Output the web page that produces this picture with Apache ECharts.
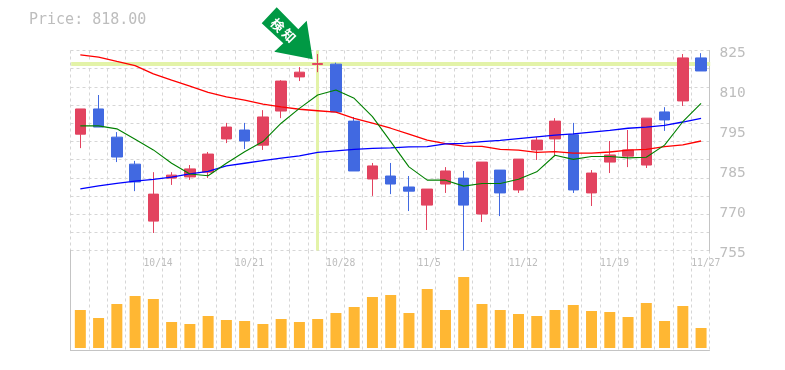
<!DOCTYPE html>
<html><head><meta charset="utf-8">
<style>html,body{margin:0;padding:0;background:#fff}#c{width:785px;height:370px}</style>
<script src="https://cdn.jsdelivr.net/npm/echarts@6/dist/echarts.min.js"></script>
</head><body><div id="c"></div>
<script>
// [open, close, low, high]
const ohlc = [
[794.2,802.7,789.5,802.7],[802.7,796.6,796.6,807.4],[793.2,786.5,784.8,794.9],[784.1,778.1,775.0,785.2],
[764.9,774.0,760.9,781.4],[779.4,780.4,777.1,781.4],[779.8,782.5,778.8,783.8],[781.4,787.5,779.4,788.2],
[792.6,796.6,791.2,798.0],[795.6,791.9,789.2,798.0],[790.5,800.0,788.9,802.3],[802.0,812.1,799.6,812.4],
[813.5,815.1,812.1,816.8],[817.7,818.0,815.1,821.2],[817.8,801.7,801.7,818.3],[798.6,781.8,781.8,800.0],
[779.1,783.5,773.4,784.5],[780.1,777.4,774.0,784.5],[776.4,775.0,768.3,780.1],[770.3,775.7,761.9,775.7],
[777.4,781.8,774.4,783.1],[779.4,770.3,755.0,781.8],[767.3,784.8,764.6,784.8],[782.1,774.4,766.6,782.1],
[775.4,785.8,774.4,785.8],[788.9,792.2,785.5,793.2],[792.6,798.6,786.8,799.6],[794.0,775.4,774.4,798.0],
[774.4,781.1,770.0,782.1],[784.8,787.2,781.1,791.9],[786.8,788.9,783.1,795.6],[783.8,799.6,782.8,799.6],
[801.7,799.0,795.3,803.3],[805.4,819.9,803.7,821.2],[819.9,815.5,815.5,821.5]];
const maLong = [820.9,820.2,818.7,817.3,814.5,812.4,810.4,808.3,806.8,805.7,804.3,803.4,802.6,802.1,801.6,799.5,797.9,796.2,794.2,792.2,791.0,790.2,790.1,789.1,788.8,788.1,788.3,787.8,787.8,788.2,788.8,789.1,790.0,790.6,791.9];
const maMid = [775.8,776.8,777.6,778.4,779.0,779.7,780.8,781.7,783.5,784.4,785.3,786.1,786.9,788.1,788.6,789.1,789.4,789.6,789.9,790.0,790.9,791.1,791.7,792.1,792.7,793.3,793.9,794.3,794.9,795.5,796.2,796.6,797.2,798.3,799.5];
const maShort = [797.0,797.0,796.0,792.5,788.9,784.4,780.8,780.2,784.4,788.3,791.7,797.9,802.9,807.4,809.1,806.3,800.1,791.7,783.2,778.7,778.7,776.7,777.6,777.6,779.0,781.5,787.1,785.7,786.7,786.7,786.2,786.4,790.5,798.4,804.6];
const volume = [38,30,44,52,49,26,24,32,28,27,24,29,26,29,35,41,51,53,35,59,38,71,44,38,34,32,38,43,37,36,31,45,27,42,20];
const dateLabels = {4:'10/14',9:'10/21',14:'10/28',19:'11/5',24:'11/12',29:'11/19',34:'11/27'};
const priceLabels = ['755','770','785','795','810','825'];
const currentPrice = 818;
const currentIndex = 13;
const categories = ohlc.map((_, i) => String(i));

const gridCol = '#d6d6d6', axisCol = '#c4c4c4', textCol = '#bdbdbd';
const mono = '"DejaVu Sans Mono", monospace';
const dash = {color: gridCol, type: [3, 3], width: 1};
const chart = echarts.init(document.getElementById('c'), null, {renderer: 'canvas'});
chart.setOption({
  animation: false,
  backgroundColor: '#fff',
  title: {text: 'Price: ' + currentPrice.toFixed(2), left: 24, top: 8,
    textStyle: {fontFamily: mono, fontSize: 15, fontWeight: 'normal', color: textCol}},
  grid: [
    {left: 70.5, top: 50.5, width: 639, height: 200},   // frame, price
    {left: 70.5, top: 250.5, width: 639, height: 100},  // frame, volume
    {left: 71.2, top: 50.5, width: 639, height: 200},   // candles
    {left: 71.2, top: 252, width: 639, height: 96}      // volume bars
  ],
  xAxis: [
    {type: 'value', gridIndex: 0, min: 0, max: 35, interval: 1,
     axisLine: {show: false}, axisTick: {show: false},
     splitLine: {show: true, lineStyle: dash},
     axisLabel: {show: true, align: 'left', margin: 8, fontFamily: mono, fontSize: 9.7, color: textCol,
       showMinLabel: true, showMaxLabel: true, hideOverlap: false,
       formatter: v => dateLabels[v] || ''}},
    {type: 'value', gridIndex: 1, min: 0, max: 35, interval: 1,
     axisLine: {show: true, lineStyle: {color: axisCol, width: 1}}, axisTick: {show: false},
     axisLabel: {show: false}, splitLine: {show: true, lineStyle: dash}},
    {type: 'category', gridIndex: 2, data: categories, show: false},
    {type: 'category', gridIndex: 3, data: categories, show: false}
  ],
  yAxis: [
    {type: 'value', gridIndex: 0, min: 0, max: 11, interval: 1, position: 'left',
     axisLine: {show: false}, axisTick: {show: false}, axisLabel: {show: false},
     splitLine: {show: true, lineStyle: dash}},
    {type: 'value', gridIndex: 0, min: 0, max: 5, interval: 1, position: 'right',
     axisLine: {show: true, lineStyle: {color: axisCol, width: 1}}, axisTick: {show: false},
     splitLine: {show: false},
     axisLabel: {show: true, margin: 10, fontFamily: mono, fontSize: 14.5, color: textCol,
       verticalAlign: 'top', padding: [-5, 0, 0, 0], formatter: v => priceLabels[v]}},
    {type: 'value', gridIndex: 1, min: 0, max: 1, interval: 1, position: 'right',
     axisLine: {show: true, lineStyle: {color: axisCol, width: 1}}, axisTick: {show: false},
     axisLabel: {show: false}, splitLine: {show: false}},
    {type: 'value', gridIndex: 2, min: 755, max: 822.4, show: false, splitLine: {show: false}},
    {type: 'value', gridIndex: 3, min: 0, max: 96, show: false, splitLine: {show: false}}
  ],
  series: [
    {type: 'line', xAxisIndex: 2, yAxisIndex: 3, data: [], silent: true, z: 1,
     markLine: {silent: true, symbol: 'none', z: 1, label: {show: false},
       lineStyle: {color: '#e3f3a8', type: 'solid'},
       data: [
         {yAxis: currentPrice, lineStyle: {width: 4, color: '#e3f3a8', type: 'solid'}},
         {xAxis: currentIndex, lineStyle: {width: 3, color: '#e3f3a8', type: 'solid'}}
       ]}},
    {type: 'candlestick', xAxisIndex: 2, yAxisIndex: 3, data: ohlc, barWidth: 11, z: 3,
     itemStyle: {color: '#e2435f', color0: '#4169e1', borderColor: '#e2435f', borderColor0: '#4169e1', borderWidth: 1}},
    {type: 'line', xAxisIndex: 2, yAxisIndex: 3, data: maLong, z: 4, symbol: 'none',
     lineStyle: {color: '#ff0000', width: 1.3}},
    {type: 'line', xAxisIndex: 2, yAxisIndex: 3, data: maMid, z: 4, symbol: 'none',
     lineStyle: {color: '#0000ff', width: 1.3}},
    {type: 'line', xAxisIndex: 2, yAxisIndex: 3, data: maShort, z: 4, symbol: 'none',
     lineStyle: {color: '#008000', width: 1.1}},
    {type: 'bar', xAxisIndex: 3, yAxisIndex: 4, data: volume, barWidth: 11, z: 3,
     itemStyle: {color: '#ffb733'}}
  ],
  graphic: [
    {type: 'polygon', z: 20, silent: true,
     shape: {points: [[261.7,23.3],[276.7,7.3],[298.3,29.3],[306.7,20.7],[312.7,59.3],[274.3,51.7],[283.3,43.3]]},
     style: {fill: '#009944'}},
    {type: 'text', z: 21, silent: true, x: 277.5, y: 25, rotation: -Math.PI/4,
     style: {text: '検', fill: '#fff', fontSize: 13, fontWeight: 'bold', fontFamily: '"Noto Sans CJK JP"', align: 'center', verticalAlign: 'middle'}},
    {type: 'text', z: 21, silent: true, x: 289, y: 35.5, rotation: -Math.PI/4,
     style: {text: '知', fill: '#fff', fontSize: 13, fontWeight: 'bold', fontFamily: '"Noto Sans CJK JP"', align: 'center', verticalAlign: 'middle'}}
  ]
});
</script></body></html>
